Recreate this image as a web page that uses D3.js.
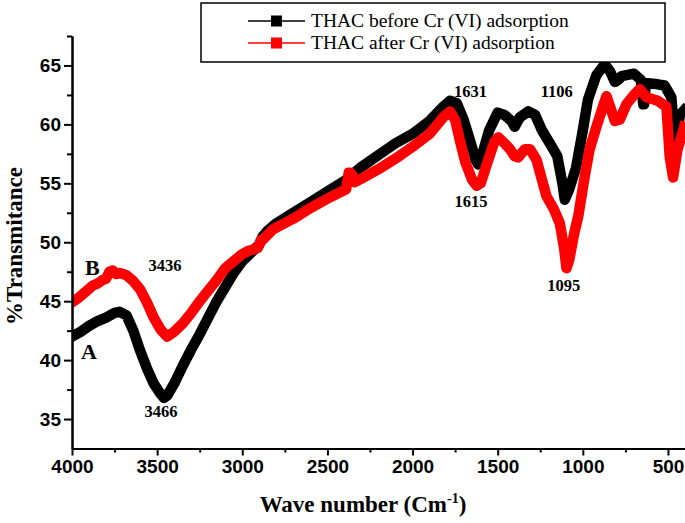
<!DOCTYPE html>
<html><head><meta charset="utf-8">
<script src="https://cdn.jsdelivr.net/npm/d3@7"></script>
<style>body{margin:0;background:#fff}svg{display:block}</style>
</head><body><svg id="c" width="685" height="523"></svg>
<script>
const waveBefore = [4000,3950,3900,3850,3800,3750,3720,3680,3640,3600,3560,3520,3483,3460,3440,3400,3350,3300,3250,3200,3150,3100,3050,3000,2950,2900,2880,2850,2800,2700,2600,2500,2400,2300,2200,2100,2000,1900,1820,1780,1740,1700,1660,1630,1615,1590,1550,1500,1460,1420,1400,1370,1320,1280,1240,1190,1150,1120,1106,1080,1040,1000,970,920,871,840,812,790,773,700,660,645,640,630,620,560,520,480,460,450,430,405];
const tBefore = [42.0,42.4,42.9,43.3,43.6,44.0,44.1,43.8,42.5,40.8,39.3,38.0,37.2,36.8,37.0,38.0,39.5,40.9,42.2,43.6,45.0,46.2,47.4,48.4,49.1,49.8,50.5,51.0,51.6,52.5,53.4,54.3,55.2,56.4,57.4,58.4,59.2,60.3,61.5,62.0,61.8,60.4,58.5,57.0,56.6,57.5,59.5,61.0,60.8,60.3,59.8,60.6,61.1,60.8,59.5,58.3,57.3,55.0,53.6,54.5,56.3,59.5,62.1,64.2,65.1,64.5,63.6,63.8,64.1,64.3,63.8,61.7,61.7,63.5,63.5,63.4,63.3,62.3,58.5,59.0,60.8,61.2];
const waveAfter = [4000,3960,3920,3880,3850,3820,3800,3780,3760,3740,3720,3680,3640,3600,3560,3520,3480,3442,3400,3350,3300,3250,3200,3150,3100,3050,3000,2960,2930,2910,2890,2880,2820,2700,2600,2500,2390,2375,2365,2350,2340,2300,2200,2100,2000,1900,1820,1780,1750,1720,1690,1650,1624,1600,1560,1520,1497,1460,1428,1400,1380,1340,1310,1272,1240,1213,1170,1135,1110,1096,1080,1050,1027,990,960,920,880,861,840,812,783,744,700,665,626,560,509,490,470,445,405];
const tAfter = [44.9,45.3,45.8,46.3,46.5,46.8,46.9,47.5,47.6,47.3,47.4,47.2,46.7,46.0,44.9,43.6,42.6,42.0,42.4,43.1,44.0,45.0,45.9,46.8,47.8,48.4,49.0,49.3,49.4,49.5,50.2,50.2,51.1,52.0,52.9,53.7,54.5,55.9,55.9,55.6,55.1,55.4,56.2,57.1,58.1,59.2,60.6,61.1,60.4,58.5,56.8,55.3,54.8,55.0,56.8,58.5,58.9,58.4,57.9,57.3,57.2,57.9,57.9,57.0,55.3,53.9,52.8,51.6,49.5,47.8,48.5,50.8,52.2,55.5,57.9,59.8,61.6,62.4,61.5,60.3,60.4,61.7,62.5,63.0,62.3,62.0,61.5,57.3,55.5,57.8,59.8];
const xMajorTicks = [4000,3500,3000,2500,2000,1500,1000,500];
const xMinorTicks = [3750,3250,2750,2250,1750,1250,750];
const yMajorTicks = [35,40,45,50,55,60,65];
const yMinorTicks = [37.5,42.5,47.5,52.5,57.5,62.5,67.5];
const seriesNames = ["THAC before Cr (VI) adsorption","THAC after Cr (VI) adsorption"];
const seriesColors = ["#000000","#ff0000"];
const peakLabels = [
  {text:"3466", w:3466, t:36.8, dx:-2, dy:19},
  {text:"3436", w:3436, t:42.0, dx:-3, dy:-66},
  {text:"1631", w:1631, t:62.0, dx:-5, dy:-4},
  {text:"1615", w:1615, t:54.8, dx:-7, dy:21},
  {text:"1106", w:1106, t:53.6, dx:-8, dy:-103},
  {text:"1095", w:1095, t:47.8, dx:-3, dy:23}
];

const svg = d3.select("#c");
const x = d3.scaleLinear().domain([4000,400]).range([72,685]);
const y = d3.scaleLinear().domain([32.5,67.5]).range([448.5,36]);

// curves
const line = d3.line().x(d=>x(d[0])).y(d=>y(d[1])).curve(d3.curveLinear);
svg.append("clipPath").attr("id","pl").append("rect").attr("x",73).attr("y",0).attr("width",612).attr("height",447);
const dataB = waveBefore.map((w,i)=>[w,tBefore[i]]);
const dataA = waveAfter.map((w,i)=>[w,tAfter[i]]);
const gp = svg.append("g").attr("clip-path","url(#pl)");
gp.append("path").datum(dataB).attr("d",line).attr("fill","none").attr("stroke",seriesColors[0]).attr("stroke-width",10.5).attr("stroke-linejoin","round").attr("stroke-linecap","square");
gp.append("path").datum(dataA).attr("d",line).attr("fill","none").attr("stroke",seriesColors[1]).attr("stroke-width",10.5).attr("stroke-linejoin","round").attr("stroke-linecap","square");

// axes
const gx = svg.append("g").attr("transform","translate(0,448.5)");
gx.call(d3.axisBottom(x).tickValues(xMajorTicks).tickSize(7).tickSizeOuter(0).tickPadding(4).tickFormat(d3.format("d")));
gx.append("g").call(d3.axisBottom(x).tickValues(xMinorTicks).tickSize(4).tickSizeOuter(0).tickFormat(""));
const gy = svg.append("g").attr("transform","translate(72,0)");
gy.call(d3.axisLeft(y).tickValues(yMajorTicks).tickSize(8).tickSizeOuter(0).tickPadding(3).tickFormat(d3.format("d")));
gy.append("g").call(d3.axisLeft(y).tickValues(yMinorTicks).tickSize(5).tickSizeOuter(0).tickFormat(""));
svg.selectAll(".domain").attr("stroke","#000").attr("stroke-width",2);
svg.selectAll(".tick line").attr("stroke","#000").attr("stroke-width",2);
svg.selectAll(".tick text").attr("font-family","'Liberation Sans', Arial, sans-serif").attr("font-weight","bold").attr("font-size",19).attr("fill","#000");

// peak labels
svg.selectAll(".pk").data(peakLabels).join("text")
  .attr("x",d=>x(d.w)+d.dx).attr("y",d=>y(d.t)+d.dy)
  .attr("text-anchor","middle")
  .attr("font-family","'Liberation Serif','Times New Roman',serif").attr("font-weight","bold").attr("font-size",16.5)
  .text(d=>d.text);

// A / B
svg.append("text").attr("x",x(4000)+9).attr("y",y(40)-1).attr("font-family","'Liberation Serif',serif").attr("font-weight","bold").attr("font-size",22).text("A");
svg.append("text").attr("x",x(4000)+13).attr("y",y(47.5)+3).attr("font-family","'Liberation Serif',serif").attr("font-weight","bold").attr("font-size",22).text("B");

// axis titles
svg.append("text").attr("transform","translate(22,246) rotate(-90)").attr("text-anchor","middle")
  .attr("font-family","'Liberation Serif',serif").attr("font-weight","bold").attr("font-size",23).text("%Transmitance");
const xt = svg.append("text").attr("x",363).attr("y",512).attr("text-anchor","middle")
  .attr("font-family","'Liberation Serif',serif").attr("font-weight","bold").attr("font-size",23);
xt.append("tspan").text("Wave number (Cm");
xt.append("tspan").attr("dy",-9).attr("font-size",14).text("-1");
xt.append("tspan").attr("dy",9).text(")");

// legend
const lg = svg.append("g");
lg.append("rect").attr("x",201).attr("y",3).attr("width",464).attr("height",59).attr("fill","#fff").attr("stroke","#000").attr("stroke-width",1.5);
seriesNames.forEach((n,i)=>{
  const yy = 21 + i*22;
  lg.append("line").attr("x1",248).attr("x2",305).attr("y1",yy).attr("y2",yy).attr("stroke",seriesColors[i]).attr("stroke-width",1.5);
  lg.append("rect").attr("x",271).attr("y",yy-5.5).attr("width",11).attr("height",11).attr("fill",seriesColors[i]);
  lg.append("text").attr("x",311).attr("y",yy+6).attr("font-family","'Liberation Serif','Times New Roman',serif").attr("font-size",19.5).text(n);
});
</script></body></html>
